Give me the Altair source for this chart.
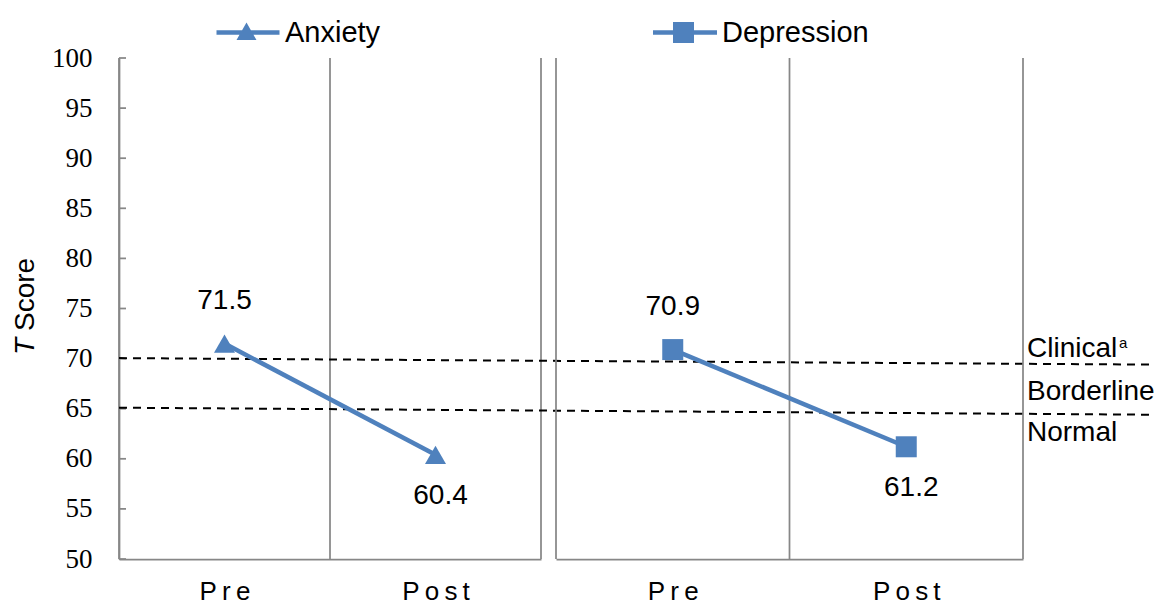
import altair as alt
import pandas as pd

# ---------------- data ----------------
PHASES = ["Pre", "Post"]
PHASE_POS = [0.5, 1.5]          # centre of each phase band (panel units)
BOUNDS = [0, 1, 2]              # band boundaries (panel units)
ANXIETY = [71.5, 60.4]
DEPRESSION = [70.9, 61.2]
Y_TICKS = [50, 55, 60, 65, 70, 75, 80, 85, 90, 95, 100]

CUT_NAMES = ["Clinical", "Borderline"]
CUT_Y_START = [70.05, 65.1]
CUT_Y_END = [69.4, 64.4]
CUT_X_START = [0, 0]
CUT_X_END = [4.9, 4.9]

ZONE_LABELS = ["Clinical", "Borderline", "Normal"]
ZONE_Y = [70.15, 65.85, 61.75]
ZONE_SUP = ["a", "", ""]

Y_TITLE = ["T", "Score"]

# ---------------- style ----------------
BLUE = "#4f81bd"
GRID = "#878787"
SANS = "Liberation Sans"
SERIF = "Liberation Serif"
W1, W2, H = 422, 467, 501

TRI_PATH = "M-3,-0.22L3.3,-0.22L3.3,0.22L-3,0.22Z M0,-1L1,0.75L-1,0.75Z"
SQ_PATH = "M-3.05,-0.22L3.35,-0.22L3.35,0.22L-3.05,0.22Z M-1.05,-1.05L1.05,-1.05L1.05,1.05L-1.05,1.05Z"

x_scale = alt.Scale(domain=[0, 2], nice=False, zero=False)
y_scale = alt.Scale(domain=[50, 100], nice=False, zero=False)

spaced = ["\u2009".join(list(p)) for p in PHASES]
label_expr = f"datum.value < {BOUNDS[1]} ? '{spaced[0]}' : '{spaced[1]}'"

bounds_df = pd.DataFrame({"b": BOUNDS})
ticks_df = pd.DataFrame({"t": Y_TICKS})
cut_df = pd.DataFrame({"name": CUT_NAMES, "x0": CUT_X_START, "x1": CUT_X_END,
                       "y0": CUT_Y_START, "y1": CUT_Y_END})
zone_df = pd.DataFrame({"zone": ZONE_LABELS, "y": ZONE_Y, "sup": ZONE_SUP,
                        "edge": [BOUNDS[-1]] * len(ZONE_LABELS)})

X_AXIS = alt.Axis(orient="bottom", values=PHASE_POS, labelExpr=label_expr, grid=False,
                  ticks=False, domain=True, domainColor=GRID, domainWidth=1.75,
                  labelFont=SANS, labelFontSize=26, labelColor="black",
                  labelPadding=19, labelAngle=0, title=None)


def panel(values, measure, shape, width, sym_path, with_y_axis):
    df = pd.DataFrame({"phase": PHASES, "x": PHASE_POS, "score": values,
                       "measure": [measure] * len(PHASES)})

    def X(field):
        return alt.X(field, scale=x_scale, axis=X_AXIS)

    Yn = alt.Y("score:Q", scale=y_scale, axis=None)

    rules = alt.Chart(bounds_df).mark_rule(color=GRID, strokeWidth=1.75).encode(
        x=X("b:Q"))

    if with_y_axis:
        y_axis = alt.Axis(orient="left", values=Y_TICKS, ticks=False, domain=True,
                          domainColor=GRID, domainWidth=1.75, labelFont=SERIF,
                          labelFontSize=27, labelColor="black", labelPadding=27,
                          grid=False, title=None)
        line_y = alt.Y("score:Q", scale=y_scale, axis=y_axis)
    else:
        line_y = Yn

    line = alt.Chart(df).mark_line(color=BLUE, strokeWidth=4.5).encode(x=X("x:Q"), y=line_y)

    pts = alt.Chart(df).mark_point(filled=True, shape=shape, size=441, opacity=1).encode(
        x=X("x:Q"), y=Yn,
        color=alt.Color("measure:N", scale=alt.Scale(domain=[measure], range=[BLUE]),
                        legend=alt.Legend(orient="none", legendX=113, legendY=-40,
                                          title=None, symbolType=sym_path, symbolSize=400,
                                          symbolFillColor=BLUE, symbolStrokeWidth=0,
                                          symbolOpacity=1, labelFont=SANS,
                                          labelFontSize=29, labelColor="black",
                                          labelOffset=24, padding=0)))

    txt_pre = alt.Chart(df).transform_filter(alt.datum.phase == PHASES[0]).mark_text(
        fontSize=28, font=SANS, color="black", baseline="alphabetic", dy=-35).encode(
        x=X("x:Q"), y=Yn, text=alt.Text("score:Q", format=".1f"))
    txt_post = alt.Chart(df).transform_filter(alt.datum.phase == PHASES[1]).mark_text(
        fontSize=28, font=SANS, color="black", baseline="alphabetic", dy=49, dx=5).encode(
        x=X("x:Q"), y=Yn, text=alt.Text("score:Q", format=".1f"))

    layers = [rules]
    if with_y_axis:
        # inward tick marks of the y axis
        yticks = alt.Chart(ticks_df).mark_rule(color=GRID, strokeWidth=1.75).encode(
            x=alt.value(0), x2=alt.value(7),
            y=alt.Y("t:Q", scale=y_scale, axis=None))
        cuts = alt.Chart(cut_df).mark_rule(color="black", strokeWidth=2,
                                           strokeDash=[8, 6], clip=False).encode(
            x=X("x0:Q"), x2="x1:Q",
            y=alt.Y("y0:Q", scale=y_scale, axis=None), y2="y1:Q")
        layers += [yticks, cuts]
    layers += [line, pts, txt_pre, txt_post]

    if with_y_axis:
        tdf = pd.DataFrame({"t": [Y_TITLE[0]]})
        sdf = pd.DataFrame({"t": [Y_TITLE[1]]})
        t_mark = alt.Chart(tdf).mark_text(angle=270, align="right", baseline="alphabetic",
                                          fontStyle="italic", fontSize=28, font=SANS,
                                          color="black", dx=-3).encode(
            x=alt.value(-85), y=alt.value(277), text="t:N")
        s_mark = alt.Chart(sdf).mark_text(angle=270, align="left", baseline="alphabetic",
                                          fontSize=28, font=SANS, color="black",
                                          dx=4).encode(
            x=alt.value(-85), y=alt.value(277), text="t:N")
        layers += [t_mark, s_mark]
    else:
        zy = alt.Y("y:Q", scale=y_scale, axis=None)
        zones = alt.Chart(zone_df).mark_text(align="left", baseline="alphabetic", dx=4,
                                             fontSize=28, font=SANS, color="black").encode(
            x=X("edge:Q"), y=zy, text="zone:N")
        sup = alt.Chart(zone_df).transform_filter(alt.datum.sup != "").mark_text(
            align="left", baseline="alphabetic", dx=96, dy=-9, fontSize=15, font=SANS,
            color="black").encode(x=X("edge:Q"), y=zy, text="sup:N")
        layers += [zones, sup]

    ch = alt.layer(*layers)
    if with_y_axis:
        ch = ch.resolve_axis(y="independent")
    return ch.properties(width=width, height=H)


left = panel(ANXIETY, "Anxiety", "triangle-up", W1, TRI_PATH, True)
right = panel(DEPRESSION, "Depression", "square", W2, SQ_PATH, False)

chart = alt.hconcat(left, right, spacing=15, bounds="flush").resolve_scale(
    color="independent").properties(
    padding={"left": 3, "top": 9, "right": 0, "bottom": 0}
).configure_view(stroke="transparent")

chart.save("out.html", embed_options={"renderer": "svg", "actions": False})
